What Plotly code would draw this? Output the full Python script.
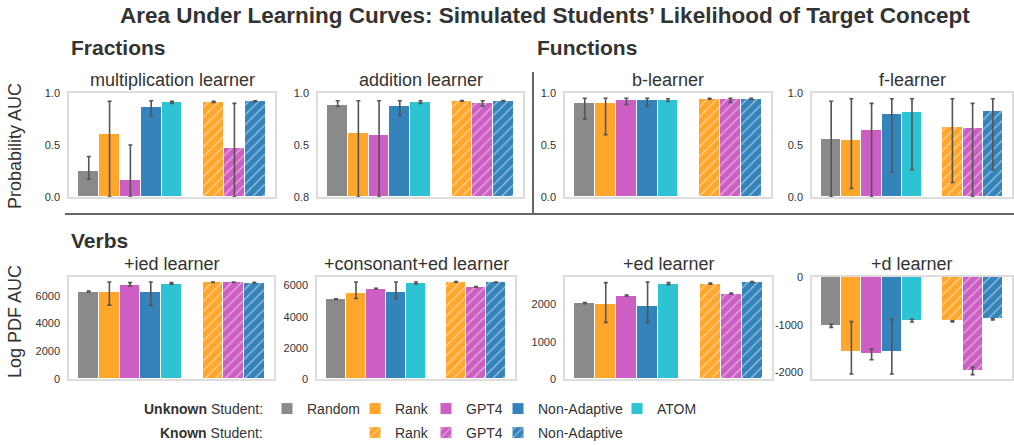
import plotly.graph_objects as go

W, H = 1014, 445

methods = ["Random", "Rank", "GPT4", "Non-Adaptive", "ATOM", "Rank", "GPT4", "Non-Adaptive"]
known = [False, False, False, False, False, True, True, True]
positions = [0, 1, 2, 3, 4, 6, 7, 8]
colors = ["#8a8a8a", "#ffa62b", "#cc5ec4", "#3483bb", "#2ec3d3", "#ffa62b", "#cc5ec4", "#3483bb"]

panel_titles = ["multiplication learner", "addition learner", "b-learner", "f-learner",
                "+ied learner", "+consonant+ed learner", "+ed learner", "+d learner"]

# values, lower and upper error-bar bounds
mult_vals = [0.253, 0.61, 0.166, 0.87, 0.909, 0.912, 0.47, 0.919]
mult_lo = [0.17, 0.0, 0.0, 0.78, 0.90, 0.91, 0.0, 0.915]
mult_hi = [0.39, 0.92, 0.50, 0.925, 0.92, 0.92, 0.90, 0.925]

add_vals = [0.886, 0.614, 0.595, 0.873, 0.912, 0.925, 0.908, 0.925]
add_lo = [0.87, 0.0, 0.0, 0.784, 0.90, 0.92, 0.873, 0.922]
add_hi = [0.925, 0.925, 0.925, 0.925, 0.925, 0.928, 0.925, 0.928]

b_vals = [0.908, 0.90, 0.934, 0.928, 0.934, 0.944, 0.941, 0.944]
b_lo = [0.748, 0.60, 0.889, 0.872, 0.918, 0.94, 0.91, 0.94]
b_hi = [0.95, 0.95, 0.95, 0.95, 0.944, 0.948, 0.95, 0.948]

f_vals = [0.56, 0.55, 0.64, 0.797, 0.813, 0.672, 0.659, 0.823]
f_lo = [0.0, 0.082, 0.0, 0.24, 0.262, 0.141, 0.0, 0.262]
f_hi = [0.92, 0.944, 0.90, 0.944, 0.944, 0.944, 0.90, 0.944]

ied_vals = [6311, 6263, 6765, 6263, 6860, 6980, 6980, 6956]
ied_lo = [6280, 5330, 6717, 5330, 6837, 6960, 6960, 6935]
ied_hi = [6340, 7004, 6956, 7004, 6956, 7000, 7000, 6980]

cons_vals = [5128, 5511, 5809, 5617, 6149, 6234, 5915, 6213]
cons_lo = [5110, 5170, 5790, 5170, 6106, 6215, 5895, 6195]
cons_hi = [5150, 6234, 5830, 6234, 6234, 6255, 5935, 6235]

ed_vals = [2036, 2000, 2240, 1964, 2542, 2560, 2293, 2604]
ed_lo = [2020, 1520, 2225, 1520, 2533, 2545, 2280, 2590]
ed_hi = [2050, 2587, 2255, 2604, 2587, 2575, 2305, 2615]

d_vals = [-1021, -1583, -1611, -1563, -917, -931, -1979, -889]
d_lo = [-1056, -2035, -1736, -2035, -944, -945, -2049, -900]
d_hi = [-993, -937, -1514, -889, -889, -917, -1889, -878]

panels = [(mult_vals, mult_lo, mult_hi), (add_vals, add_lo, add_hi),
          (b_vals, b_lo, b_hi), (f_vals, f_lo, f_hi),
          (ied_vals, ied_lo, ied_hi), (cons_vals, cons_lo, cons_hi),
          (ed_vals, ed_lo, ed_hi), (d_vals, d_lo, d_hi)]

y_ranges = [[0, 1.0], [0, 1.0], [0, 1.0], [0, 1.0],
            [0, 7360], [0, 6553], [0, 2738], [-2140, 0]]
y_tickvals = [[0, 0.5, 1.0]] * 4 + [[0, 2000, 4000, 6000], [0, 2000, 4000, 6000],
                                    [0, 1000, 2000], [-2000, -1000, 0]]
y_ticktext = [["0.0", "0.5", "1.0"], ["0.8", "0.5", "1.0"], ["0.0", "0.5", "1.0"],
              ["0.0", "0.5", "1.0"], ["0", "2000", "4000", "6000"],
              ["0", "2000", "4000", "6000"], ["0", "1000", "2000"], ["-2000", "-1000", "0"]]

# pixel boxes (left, right, top, bottom)
boxes = [(69, 275, 93, 197), (318, 523, 93, 197), (565, 771, 93, 197), (812, 1012, 93, 197),
         (69, 274, 277, 379), (317, 515, 277, 379), (565, 772, 277, 379), (812, 1012, 277, 379)]

legend_pos = [(267, 409), (355, 409), (426, 409), (498, 409), (617, 409),
              (355, 433), (426, 433), (498, 433)]

FONT = "Liberation Sans, Arial, Helvetica, sans-serif"
TXT = "#333333"

fig = go.Figure()
layout = dict()
annotations = []

for k, (vals, lo, hi) in enumerate(panels):
    idx = k + 1
    xa = "x" if idx == 1 else f"x{idx}"
    ya = "y" if idx == 1 else f"y{idx}"
    for m in range(8):
        v = vals[m]
        lg = "legend" if m == 0 else f"legend{m + 1}"
        marker = dict(color=colors[m], line=dict(color="white", width=1))
        if known[m]:
            marker["pattern"] = dict(shape="/", fgcolor="white", size=7, solidity=0.18,
                                     fillmode="overlay")
        fig.add_trace(go.Bar(
            x=[positions[m]], y=[v], width=[1.0], name=methods[m],
            marker=marker, xaxis=xa, yaxis=ya,
            error_y=dict(type="data", symmetric=False, array=[hi[m] - v],
                         arrayminus=[v - lo[m]], color="#555555", thickness=1.6, width=2),
            showlegend=(k == 0), legend=lg,
        ))
    l, r, t, b = boxes[k]
    xkey = "xaxis" if idx == 1 else f"xaxis{idx}"
    ykey = "yaxis" if idx == 1 else f"yaxis{idx}"
    layout[xkey] = dict(domain=[l / W, r / W], range=[-0.95, 8.95], anchor=ya,
                        showticklabels=False, showgrid=False, zeroline=False, ticks="",
                        showline=True, mirror=True, linecolor="#dddddd", linewidth=1.5,
                        automargin=False, fixedrange=True)
    layout[ykey] = dict(domain=[1 - b / H, 1 - t / H], range=y_ranges[k], anchor=xa,
                        tickvals=y_tickvals[k], ticktext=y_ticktext[k], showgrid=False,
                        zeroline=False, ticks="", ticklabelstandoff=5, automargin=False,
                        showline=True, mirror=True, linecolor="#dddddd", linewidth=1.5,
                        tickfont=dict(size=11, color=TXT, family=FONT))
    annotations.append(dict(text=panel_titles[k], x=(l + r) / 2 / W, y=1 - (t - 13) / H,
                            xref="paper", yref="paper", showarrow=False,
                            xanchor="center", yanchor="middle",
                            font=dict(size=18, color=TXT, family=FONT)))

for m in range(8):
    lg = "legend" if m == 0 else f"legend{m + 1}"
    lx, ly = legend_pos[m]
    layout[lg] = dict(x=lx / W, y=1 - ly / H, xanchor="left", yanchor="middle",
                      xref="paper", yref="paper", orientation="h",
                      bgcolor="rgba(0,0,0,0)", borderwidth=0,
                      font=dict(size=14, color=TXT, family=FONT))

# section headers and title
annotations += [
    dict(text="<b>Area Under Learning Curves: Simulated Students’ Likelihood of Target Concept</b>",
         x=545 / W, y=1 - 16 / H, xanchor="center", yanchor="middle",
         font=dict(size=22.5, color=TXT, family=FONT)),
    dict(text="<b>Fractions</b>", x=69 / W, y=1 - 48 / H, xanchor="left", yanchor="middle",
         font=dict(size=21, color=TXT, family=FONT)),
    dict(text="<b>Functions</b>", x=535 / W, y=1 - 48 / H, xanchor="left", yanchor="middle",
         font=dict(size=21, color=TXT, family=FONT)),
    dict(text="<b>Verbs</b>", x=69 / W, y=1 - 240 / H, xanchor="left", yanchor="middle",
         font=dict(size=21, color=TXT, family=FONT)),
    dict(text="Probability AUC", x=15 / W, y=1 - 146 / H, textangle=-90,
         xanchor="center", yanchor="middle", font=dict(size=18, color=TXT, family=FONT)),
    dict(text="Log PDF AUC", x=15 / W, y=1 - 322 / H, textangle=-90,
         xanchor="center", yanchor="middle", font=dict(size=18, color=TXT, family=FONT)),
    dict(text="<b>Unknown</b> Student:", x=265 / W, y=1 - 409 / H, xanchor="right",
         yanchor="middle", font=dict(size=14, color=TXT, family=FONT)),
    dict(text="<b>Known</b> Student:", x=265 / W, y=1 - 433 / H, xanchor="right",
         yanchor="middle", font=dict(size=14, color=TXT, family=FONT)),
]
for a in annotations:
    a.setdefault("xref", "paper")
    a.setdefault("yref", "paper")
    a.setdefault("showarrow", False)

shapes = [
    dict(type="line", xref="paper", yref="paper", x0=533 / W, x1=533 / W,
         y0=1 - 214 / H, y1=1 - 72 / H, line=dict(color="#666666", width=2)),
    dict(type="line", xref="paper", yref="paper", x0=65 / W, x1=1.0,
         y0=1 - 214 / H, y1=1 - 214 / H, line=dict(color="#666666", width=2)),
]

fig.update_layout(
    width=W, height=H, margin=dict(l=0, r=0, t=0, b=0, autoexpand=False),
    paper_bgcolor="white", plot_bgcolor="white",
    barmode="overlay", bargap=0,
    annotations=annotations, shapes=shapes,
    font=dict(family=FONT, color=TXT),
    **layout,
)

fig.write_html("out.html", config={"displayModeBar": False},
               post_script="document.body.style.margin='0px';")
